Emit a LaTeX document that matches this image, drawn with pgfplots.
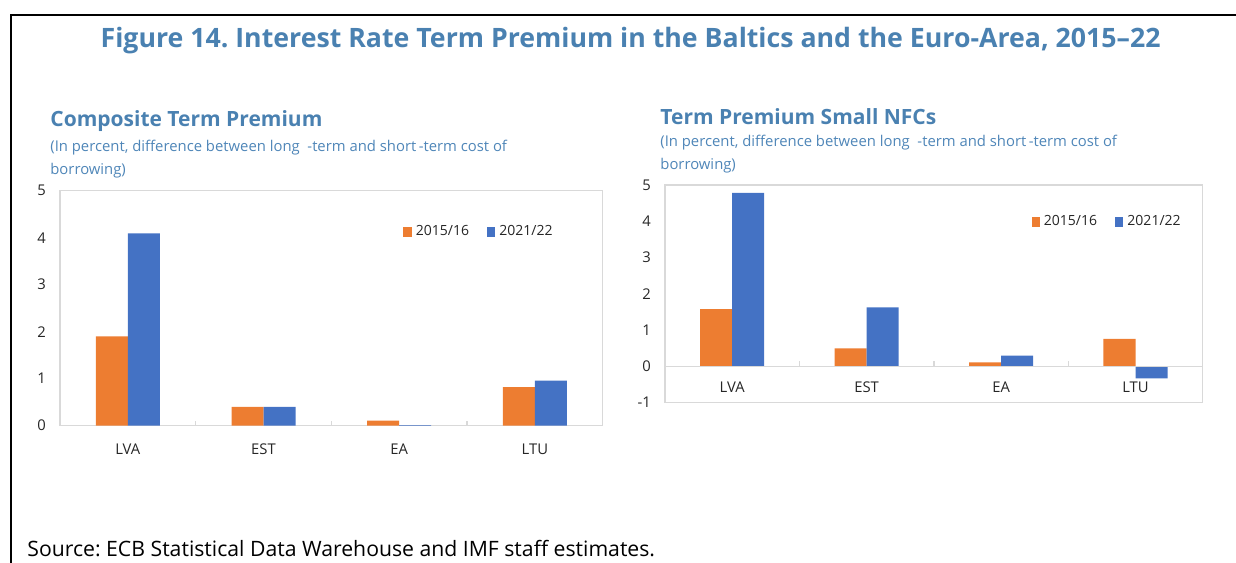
\documentclass[border=0pt]{standalone}
\usepackage{fontspec}
\setmainfont{Open Sans}
\usepackage{pgfplots}
\pgfplotsset{compat=1.18}
\frenchspacing
\definecolor{ttl}{HTML}{4A81B1}
\definecolor{sub}{HTML}{4F86B8}
\definecolor{orng}{HTML}{ED7D31}
\definecolor{blu}{HTML}{4472C4}
\definecolor{gridc}{HTML}{D9D9D9}
\definecolor{tickc}{HTML}{262626}
\pgfplotsset{
  panel/.style={
    scale only axis, anchor=south west,
    xmin=-0.5, xmax=3.5,
    ybar=0pt, bar width=16pt,
    xtick={0,1,2,3}, xticklabels={LVA,EST,EA,LTU},
    major tick length=0pt,
    axis line style={draw=gridc, line width=0.7pt},
    tick label style={font=\fontsize{7.4}{8}\selectfont, text=tickc},
    /pgf/number format/assume math mode=true,
    yticklabel style={xshift=-3.5pt},
    legend style={draw=none, fill=none, anchor=center, legend columns=2,
      font=\fontsize{7}{8}\selectfont, text=tickc,
      /tikz/every even column/.append style={column sep=7pt},
      /tikz/every odd column/.append style={column sep=0pt}},
    clip=false,
  },
  sq/.style={legend image code/.code={\fill[##1] (0pt,-2.3pt) rectangle (4.2pt,2.3pt);}},
}
\begin{document}
\begin{tikzpicture}
\useasboundingbox (0,0) rectangle (618pt,-281pt);
% frame
\draw[line width=1pt] (5.5pt,-285pt) -- (5.5pt,-7.5pt) -- (625pt,-7.5pt);
% main title
\node[text=ttl, font=\bfseries\fontsize{13.35}{16}\selectfont] at (315.3pt,-20.2pt)
  {Figure 14. Interest Rate Term Premium in the Baltics and the Euro-Area, 2015--22};
% left panel titles
\node[anchor=base west, inner sep=0pt, text=ttl, font=\bfseries\fontsize{10.5}{13}\selectfont] at (25pt,-63.3pt) {Composite Term Premium};
\node[anchor=base west, inner sep=0pt, text=sub, font=\fontsize{7.42}{9}\selectfont] at (25pt,-75.8pt) {(In percent, difference between long\ \ -term and short\,-term cost of};
\node[anchor=base west, inner sep=0pt, text=sub, font=\fontsize{7.42}{9}\selectfont] at (25pt,-87pt) {borrowing)};
% right panel titles
\node[anchor=base west, inner sep=0pt, text=ttl, font=\bfseries\fontsize{10.5}{13}\selectfont] at (330pt,-62.2pt) {Term Premium Small NFCs};
\node[anchor=base west, inner sep=0pt, text=sub, font=\fontsize{7.42}{9}\selectfont] at (330pt,-73.3pt) {(In percent, difference between long\ \ -term and short\,-term cost of};
\node[anchor=base west, inner sep=0pt, text=sub, font=\fontsize{7.42}{9}\selectfont] at (330pt,-84.5pt) {borrowing)};
% source
\node[anchor=base west, inner sep=0pt, font=\fontsize{10.6}{12}\selectfont] at (13.5pt,-278pt) {Source: ECB Statistical Data Warehouse and IMF staff estimates.};

% left chart
\begin{axis}[panel, at={(30pt,-212.85pt)}, width=271.35pt, height=117.5pt,
  ymin=0, ymax=5, ytick={0,1,2,3,4,5},
  xticklabel style={anchor=base, yshift=-14.15pt},
  legend style={at={(0.774,0.824)}}]
\addplot[fill=orng, draw=none, sq] coordinates {(0,1.90) (1,0.40) (2,0.11) (3,0.82)};
\addplot[fill=blu, draw=none, sq] coordinates {(0,4.09) (1,0.40) (2,0.01) (3,0.96)};
\legend{2015/16,2021/22}
\pgfplotsinvokeforeach{0.5,1.5,2.5}{\draw[gridc, line width=0.7pt] (axis cs:#1,0) -- ([yshift=2.5pt]axis cs:#1,0);}
\end{axis}

% right chart
\begin{axis}[panel, at={(332.5pt,-201.35pt)}, width=268.85pt, height=108.85pt,
  ymin=-1, ymax=5, ytick={-1,0,1,2,3,4,5},
  xticklabel style={anchor=base, yshift=5.2pt},
  legend style={at={(0.824,0.830)}}]
\addplot[fill=orng, draw=none, sq] coordinates {(0,1.58) (1,0.50) (2,0.11) (3,0.76)};
\addplot[fill=blu, draw=none, sq] coordinates {(0,4.78) (1,1.63) (2,0.30) (3,-0.33)};
\legend{2015/16,2021/22}
\draw[gridc, line width=0.7pt] (axis cs:-0.5,0) -- (axis cs:3.5,0);
\pgfplotsinvokeforeach{0.5,1.5,2.5}{\draw[gridc, line width=0.7pt] (axis cs:#1,0) -- ([yshift=2.5pt]axis cs:#1,0);}
\end{axis}
\end{tikzpicture}
\end{document}
